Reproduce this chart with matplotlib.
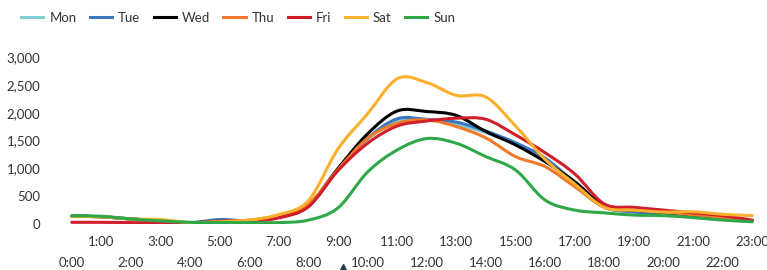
import numpy as np
import matplotlib
matplotlib.use("Agg")
import matplotlib.pyplot as plt
from matplotlib.path import Path
from matplotlib.patches import PathPatch
from matplotlib.lines import Line2D

plt.rcParams['font.family'] = ['Lato', 'DejaVu Sans']

hours = ['%d:00' % h for h in range(24)]

mon = [140, 130, 90, 60, 25, 50, 50, 120, 330, 980, 1520, 1860, 1870, 1790, 1640, 1430, 1150, 760, 300, 230, 200, 160, 110, 60]
tue = [140, 130, 90, 60, 25, 80, 60, 130, 320, 990, 1540, 1890, 1880, 1830, 1670, 1460, 1185, 740, 310, 215, 200, 160, 110, 60]
wed = [140, 130, 90, 60, 25, 50, 60, 140, 340, 1000, 1620, 2030, 2020, 1950, 1660, 1420, 1120, 760, 325, 250, 210, 160, 115, 60]
thu = [140, 130, 90, 60, 25, 50, 70, 160, 360, 980, 1540, 1810, 1870, 1750, 1545, 1210, 1030, 670, 300, 250, 215, 165, 115, 60]
fri = [30, 30, 25, 20, 20, 40, 50, 110, 310, 960, 1450, 1760, 1850, 1900, 1880, 1600, 1280, 900, 360, 300, 250, 200, 150, 70]
sat = [140, 130, 90, 80, 25, 40, 70, 170, 420, 1350, 1980, 2610, 2540, 2310, 2280, 1760, 1160, 720, 300, 250, 215, 220, 175, 150]
sun = [150, 140, 90, 55, 30, 25, 25, 25, 70, 290, 935, 1330, 1535, 1450, 1210, 970, 430, 250, 200, 160, 150, 115, 70, 40]

series = [('Mon', mon, '#7ecdd4'), ('Tue', tue, '#3b78c4'), ('Wed', wed, '#000000'),
          ('Thu', thu, '#f07a2a'), ('Fri', fri, '#d01f2a'), ('Sat', sat, '#fbb02d'),
          ('Sun', sun, '#2fa84a')]


def smooth_path(x, y):
    # excel-style smoothed line: bezier segments between the points
    p = np.column_stack([x, y]).astype(float)
    n = len(p)
    verts = [p[0]]
    codes = [Path.MOVETO]
    for i in range(n - 1):
        p0 = p[i - 1] if i > 0 else p[i]
        p3 = p[i + 2] if i + 2 < n else p[i + 1]
        c1 = p[i] + (p[i + 1] - p0) / 6
        c2 = p[i + 1] - (p3 - p[i]) / 6
        verts += [c1, c2, p[i + 1]]
        codes += [Path.CURVE4] * 3
    return Path(verts, codes)


fig = plt.figure(figsize=(7.67, 2.70), dpi=100)
ax = fig.add_axes([57 / 767, 46 / 270, 710 / 767, 167 / 270])

x = np.arange(24)
handles = []
for name, vals, col in series:
    patch = PathPatch(smooth_path(x, vals), facecolor='none', edgecolor=col,
                      lw=2.2, capstyle='round', joinstyle='round')
    ax.add_patch(patch)
    handles.append(Line2D([], [], color=col, lw=2.2, label=name))

ax.set_xlim(-0.5, 23.5)
ax.set_ylim(0, 3000)
ax.set_yticks(range(0, 3001, 500))
ax.set_yticklabels(['{:,}'.format(v) for v in range(0, 3001, 500)])
ax.tick_params(axis='y', length=0, pad=12, labelsize=9.5, labelcolor='#333333')

ax.set_xticks(x[1::2])
ax.set_xticklabels(hours[1::2])
ax.set_xticks(x[0::2], minor=True)
ax.set_xticklabels(hours[0::2], minor=True)
ax.tick_params(axis='x', which='major', length=0, pad=9, labelsize=9.5, labelcolor='#333333')
ax.tick_params(axis='x', which='minor', length=0, pad=24, labelsize=9.5, labelcolor='#333333')

for s in ax.spines.values():
    s.set_visible(False)

fig.legend(handles=handles, loc='center left', bbox_to_anchor=(21 / 767, 1 - 18 / 270),
           ncol=7, frameon=False, fontsize=9.5, handlelength=1.7, handletextpad=0.45,
           columnspacing=1.0, borderpad=0, borderaxespad=0, labelcolor='#333333')

# small marker poking in at the bottom edge
fig.add_artist(Line2D([343 / 767], [1 - 268 / 270], marker='^', markersize=6,
                      color='#1d3a4a', transform=fig.transFigure))

fig.savefig('out.png', dpi=100)
